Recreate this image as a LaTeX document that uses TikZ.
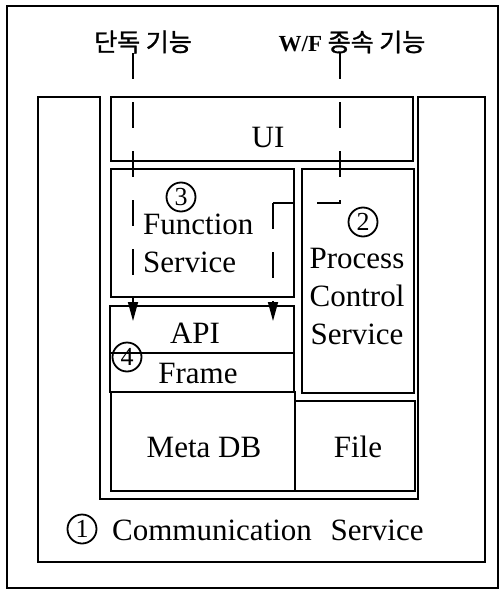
\documentclass[tikz,border=0pt]{standalone}
\usepackage{fontspec}
\setmainfont{Liberation Serif}
\newfontfamily\kr[FakeBold=1.2]{Noto Sans CJK KR}
\usetikzlibrary{arrows.meta}

\begin{document}
\begin{tikzpicture}[x=1pt,y=-1pt,
    box/.style = {draw, line width=1.6pt, rectangle, anchor=north west, inner sep=0pt},
    txt/.style = {inner sep=0pt, font=\fontsize{31}{38}\selectfont},
    hangul/.style = {inner sep=0pt, font=\kr\fontsize{25}{25}\selectfont},
    num/.style = {draw, circle, line width=1.8pt, inner sep=0pt, minimum size=29pt,
        font=\fontsize{26}{26}\selectfont},
    dline/.style = {line width=1.6pt, dash pattern=on 26pt off 23pt},
    flow/.style = {dline, -{Triangle[length=19pt,width=10pt]}}]
    \useasboundingbox (0,0) rectangle (499,589);

    % outer frame and communication service
    \node[box, minimum width=491pt, minimum height=582pt] (page) at (6,5) {};
    \draw[line width=1.6pt] (38,97) -- (100,97) -- (100,499) -- (418,499)
        -- (418,97) -- (485,97) -- (485,562) -- (38,562) -- cycle;

    % blocks
    \node[box, minimum width=302pt, minimum height=64pt] (ui) at (110,96) {};
    \node[box, minimum width=183pt, minimum height=128pt] (func) at (110,168) {};
    \node[box, minimum width=112pt, minimum height=224pt] (proc) at (301,168) {};
    \node[box, minimum width=184pt, minimum height=86pt] (api) at (109,305) {};
    \node[box, minimum width=184pt, minimum height=99pt] (meta) at (110,391) {};
    \node[box, minimum width=120pt, minimum height=90pt] (file) at (294,400) {};
    \draw[line width=1.6pt] ([yshift=-48pt]api.north west) -- ([yshift=-48pt]api.north east);

    % texts
    \node[txt] (uit) at (268,137) {UI};
    \node[txt, anchor=west, align=left] (funct) at (143,243) {Function\\Service};
    \node[txt, align=center] (proct) at (357,296) {Process\\Control\\Service};
    \node[txt] (apit) at (195,333) {API};
    \node[txt] (framet) at (198,373) {Frame};
    \node[txt] (metat) at (204,447) {Meta DB};
    \node[txt] (filet) at (358,447) {File};
    \node[txt, anchor=west] (commt) at (112,530) {Communication\hspace{0.6em}Service};

    \node[num] (n1) at (82,529) {1};
    \node[num] (n2) at (363,222) {2};
    \node[num] (n3) at (181,197) {3};
    \node[num] (n4) at (127,357) {4};

    \node[hangul] (solo) at (143,42) {단독 기능};
    \node[hangul] (wf) at (352,42) {{\rmfamily\bfseries\fontsize{23}{23}\selectfont W/F} 종속 기능};

    % flows
    \coordinate (s1) at (133,53);
    \coordinate (s2) at (133,321);
    \coordinate (w1) at (340,53);
    \coordinate (w2) at (340,203);
    \coordinate (w3) at (273,203);
    \coordinate (w4) at (273,321);
    \draw[flow] (s1) -- (s2);
    \draw[dline] (w1) -- (w2) -- (w3);
    \draw[flow] (w3) -- (w4);
\end{tikzpicture}
\end{document}
